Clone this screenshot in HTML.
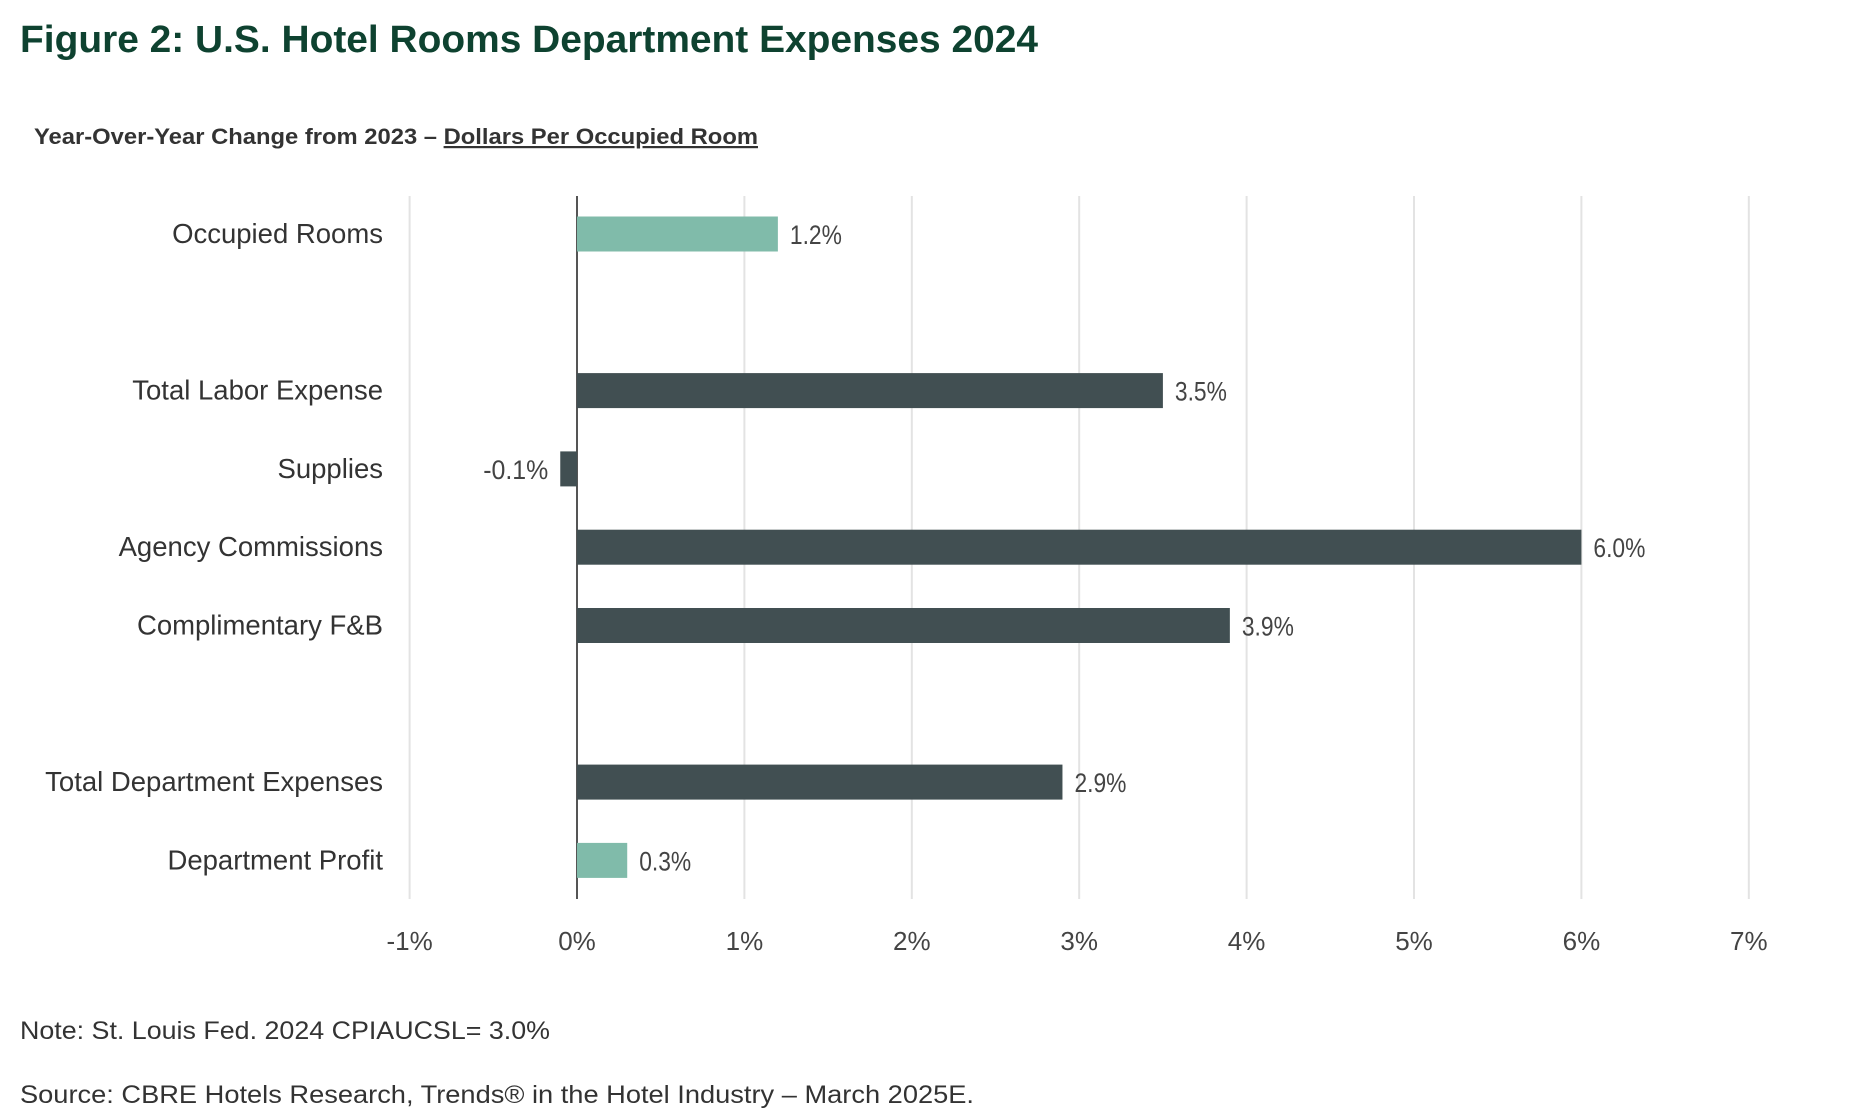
<!DOCTYPE html>
<html><head><meta charset="utf-8"><style>
html,body{margin:0;padding:0;background:#fff;}
svg{display:block;}
</style></head><body>
<svg id="chart" width="1854" height="1118" viewBox="0 0 1854 1118" xmlns="http://www.w3.org/2000/svg" font-family="Liberation Sans, sans-serif">
<text x="20" y="52" font-size="38" font-weight="bold" fill="#0e4230" textLength="1018" lengthAdjust="spacingAndGlyphs">Figure 2: U.S. Hotel Rooms Department Expenses 2024</text>
<text x="34" y="144" font-size="22" font-weight="bold" fill="#333" textLength="724" lengthAdjust="spacingAndGlyphs">Year-Over-Year Change from 2023 – <tspan text-decoration="underline">Dollars Per Occupied Room</tspan></text>
<g id="grid"></g>
<g id="bars"></g>
<g id="labels"></g>
<g id="ticks"></g>
<text x="20" y="1039" font-size="25" fill="#333" textLength="530" lengthAdjust="spacingAndGlyphs">Note: St. Louis Fed. 2024 CPIAUCSL= 3.0%</text>
<text x="20" y="1103" font-size="25" fill="#333" textLength="954" lengthAdjust="spacingAndGlyphs">Source: CBRE Hotels Research, Trends® in the Hotel Industry – March 2025E.</text>
</svg>
<script>
const categories = ["Occupied Rooms","Total Labor Expense","Supplies","Agency Commissions","Complimentary F&B","Total Department Expenses","Department Profit"];
const values = [1.2, 3.5, -0.1, 6.0, 3.9, 2.9, 0.3];
const valueLabels = ["1.2%","3.5%","-0.1%","6.0%","3.9%","2.9%","0.3%"];
const rowSlots = [0, 2, 3, 4, 5, 7, 8];
const highlight = [true, false, false, false, false, false, true];
const tickValues = [-1,0,1,2,3,4,5,6,7];
const tickLabels = ["-1%","0%","1%","2%","3%","4%","5%","6%","7%"];

const NS = "http://www.w3.org/2000/svg";
const x = v => 577 + v * 167.4;
const y = s => 234 + s * 78.3;
const barH = 35;
function mk(tag, attrs, parent){ const e=document.createElementNS(NS,tag); for(const k in attrs) e.setAttribute(k,attrs[k]); parent.appendChild(e); return e; }
const grid=document.getElementById('grid'), bars=document.getElementById('bars'), labels=document.getElementById('labels'), ticks=document.getElementById('ticks');
tickValues.forEach((t,i)=>{
  if(t!==0){
    const l=mk('line',{x1:x(t),x2:x(t),y1:196,y2:899,stroke:'#e3e3e3','stroke-width':2},grid);
    
    
  }
  const tx=mk('text',{x:x(t),y:950,'font-size':26,fill:'#444','text-anchor':'middle'},ticks);
  
  
  tx.textContent=tickLabels[i];
});
categories.forEach((c,i)=>{
  const cy=y(rowSlots[i]); const v=values[i];
  const x0=Math.min(x(0),x(v)), w=Math.abs(x(v)-x(0));
  const r=mk('rect',{x:x0,y:cy-barH/2,width:w,height:barH,fill:highlight[i]?'#80bbaa':'#414f52'},bars);
  
  
  const lbl=valueLabels[i];
  const vl=mk('text',{x:v>=0?x(v)+12:x(v)-12,y:cy+10,'font-size':27,fill:'#444','text-anchor':v>=0?'start':'end',textLength:lbl.length*13,lengthAdjust:'spacingAndGlyphs'},bars);
  
  
  vl.textContent=lbl;
  const cl=mk('text',{x:383,y:cy+9,'font-size':27.5,fill:'#333','text-anchor':'end'},labels);
  
  
  cl.textContent=c;
});
const ax=mk('line',{x1:x(0),x2:x(0),y1:196,y2:899,stroke:'#555','stroke-width':2},grid);


</script>
</body></html>
